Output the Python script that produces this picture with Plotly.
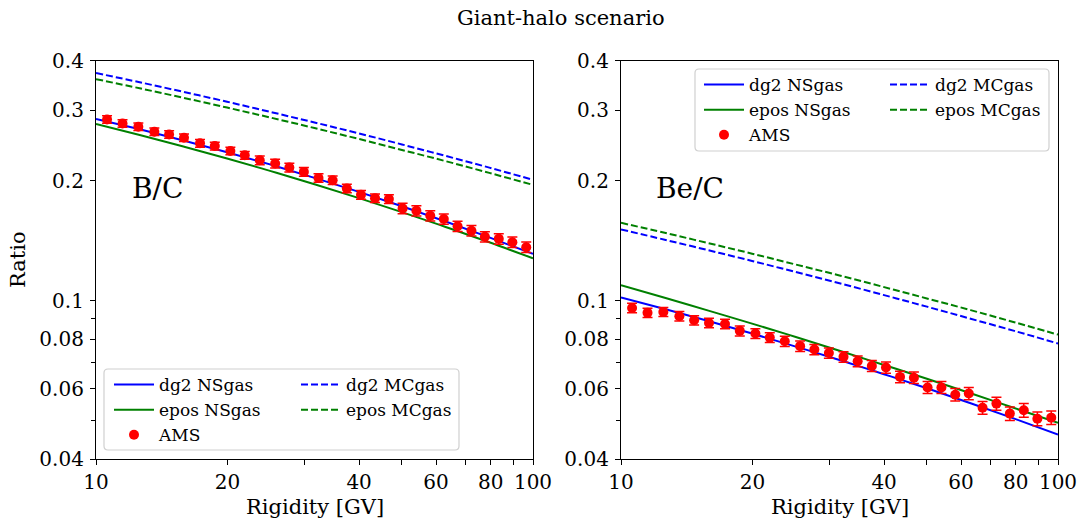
import plotly.graph_objects as go

# ---------------- data ----------------
# AMS rigidity bin centres [GV]
rigidity_ams = [10.6, 11.5, 12.5, 13.6, 14.7, 15.9, 17.3, 18.7, 20.3, 21.9,
                23.7, 25.7, 27.7, 29.9, 32.3, 34.8, 37.5, 40.4, 43.5, 46.8,
                50.3, 54.1, 58.2, 62.5, 67.2, 72.3, 77.6, 83.5, 89.7, 96.5]

bc_ams = [0.2848, 0.2783, 0.2730, 0.2653, 0.2612, 0.2563, 0.2481, 0.2442, 0.2373, 0.2315,
          0.2249, 0.2207, 0.2157, 0.2103, 0.2031, 0.2005, 0.1911, 0.1842, 0.1807, 0.1797,
          0.1703, 0.1680, 0.1632, 0.1602, 0.1536, 0.1497, 0.1446, 0.1428, 0.1401, 0.1361]
bc_ams_err = [0.0063, 0.0061, 0.0060, 0.0058, 0.0057, 0.0056, 0.0055, 0.0054, 0.0052, 0.0051,
              0.0056, 0.0055, 0.0054, 0.0053, 0.0051, 0.0050, 0.0048, 0.0046, 0.0045, 0.0045,
              0.0051, 0.0050, 0.0049, 0.0048, 0.0046, 0.0045, 0.0043, 0.0043, 0.0042, 0.0041]

bec_ams = [0.0958, 0.0931, 0.0936, 0.0913, 0.0892, 0.0878, 0.0873, 0.0839, 0.0826, 0.0807,
           0.0790, 0.0768, 0.0753, 0.0738, 0.0722, 0.0704, 0.0685, 0.0679, 0.0643, 0.0640,
           0.0605, 0.0605, 0.0580, 0.0584, 0.0538, 0.0551, 0.0520, 0.0530, 0.0505, 0.0508]
bec_ams_err = [0.0026, 0.0025, 0.0025, 0.0025, 0.0024, 0.0024, 0.0024, 0.0024, 0.0023, 0.0023,
               0.0023, 0.0023, 0.0022, 0.0022, 0.0022, 0.0022, 0.0022, 0.0022, 0.0021, 0.0021,
               0.0021, 0.0021, 0.0021, 0.0021, 0.0020, 0.0021, 0.0020, 0.0021, 0.0020, 0.0020]

# model grid [GV]
rigidity_model = [10.0, 12.59, 15.85, 19.95, 25.12, 31.62, 39.81, 50.12, 63.10, 79.43, 100.0]

bc_dg2_ns = [0.2858, 0.2690, 0.2523, 0.2357, 0.2193, 0.2032, 0.1876, 0.1725, 0.1579, 0.1440, 0.1309]
bc_epos_ns = [0.2773, 0.2603, 0.2436, 0.2273, 0.2113, 0.1959, 0.1810, 0.1667, 0.1530, 0.1400, 0.1276]
bc_dg2_mc = [0.3725, 0.3531, 0.3341, 0.3155, 0.2973, 0.2799, 0.2630, 0.2465, 0.2307, 0.2156, 0.2009]
bc_epos_mc = [0.3596, 0.3410, 0.3228, 0.3050, 0.2878, 0.2710, 0.2547, 0.2388, 0.2238, 0.2091, 0.1951]

bec_dg2_ns = [0.1018, 0.0952, 0.0888, 0.0826, 0.0766, 0.0709, 0.0654, 0.0602, 0.0552, 0.0505, 0.0461]
bec_epos_ns = [0.1093, 0.1016, 0.0943, 0.0875, 0.0810, 0.0748, 0.0690, 0.0636, 0.0585, 0.0537, 0.0493]
bec_dg2_mc = [0.1508, 0.1421, 0.1337, 0.1257, 0.1179, 0.1105, 0.1033, 0.0965, 0.0900, 0.0839, 0.0780]
bec_epos_mc = [0.1567, 0.1479, 0.1393, 0.1311, 0.1231, 0.1156, 0.1082, 0.1012, 0.0946, 0.0882, 0.0821]

x_ticks = [10, 20, 40, 60, 80, 100]
x_tick_labels = ["10", "20", "40", "60", "80", "100"]
x_minor = [30, 50, 70, 90]
y_ticks = [0.04, 0.06, 0.08, 0.1, 0.2, 0.3, 0.4]
y_tick_labels = ["0.04", "0.06", "0.08", "0.1", "0.2", "0.3", "0.4"]
y_minor = [0.05, 0.07, 0.09]

# ---------------- style ----------------
W, H = 1085, 521
FONT = "DejaVu Serif"
BLUE, GREEN, RED = "#0000ff", "#008000", "#ff0000"
DASH = "7px,3px"


def px(x):
    return x / W


def py(y):
    return 1 - y / H


panels = [
    dict(name="B/C", xa="x", ya="y", ams=bc_ams, err=bc_ams_err,
         models=[bc_dg2_ns, bc_dg2_mc, bc_epos_ns, bc_epos_mc],
         legends=("legend", "legend2")),
    dict(name="Be/C", xa="x2", ya="y2", ams=bec_ams, err=bec_ams_err,
         models=[bec_dg2_ns, bec_dg2_mc, bec_epos_ns, bec_epos_mc],
         legends=("legend3", "legend4")),
]

model_styles = [
    ("dg2 NSgas", BLUE, "solid", 0),
    ("dg2 MCgas", BLUE, DASH, 1),
    ("epos NSgas", GREEN, "solid", 0),
    ("epos MCgas", GREEN, DASH, 1),
]

fig = go.Figure()
for p in panels:
    for vals, (label, color, dash, col) in zip(p["models"], model_styles):
        fig.add_trace(go.Scatter(
            x=rigidity_model, y=vals, mode="lines", name=label,
            line=dict(color=color, width=2, dash=dash, shape="spline"),
            xaxis=p["xa"], yaxis=p["ya"], legend=p["legends"][col],
        ))
    fig.add_trace(go.Scatter(
        x=rigidity_ams, y=p["ams"], mode="markers", name="AMS",
        marker=dict(color=RED, size=10),
        error_y=dict(type="data", array=p["err"], color=RED, thickness=1.5, width=5),
        xaxis=p["xa"], yaxis=p["ya"], legend=p["legends"][0],
    ))

axis_common = dict(
    type="log", showline=True, linecolor="black", linewidth=1.2, mirror=True,
    ticks="outside", ticklen=5, tickwidth=1.2, tickcolor="black",
    showgrid=False, zeroline=False, automargin=False,
    tickfont=dict(family=FONT, size=20, color="black"),
)

xdom = [[px(96), px(533)], [px(621), px(1058)]]
ydom = [py(459), py(60.7)]

for i, key in enumerate(["xaxis", "xaxis2"]):
    fig.layout[key] = dict(
        axis_common, domain=xdom[i], range=[1, 2], anchor="y" if i == 0 else "y2",
        tickmode="array", tickvals=x_ticks, ticktext=x_tick_labels,
        minor=dict(tickmode="array", tickvals=x_minor, ticks="outside", ticklen=5,
                   tickcolor="black", tickwidth=1.2),
    )
for i, key in enumerate(["yaxis", "yaxis2"]):
    fig.layout[key] = dict(
        axis_common, domain=ydom, range=[-1.39794, -0.39794], anchor="x" if i == 0 else "x2",
        tickmode="array", tickvals=y_ticks, ticktext=y_tick_labels, ticklabelstandoff=2,
        minor=dict(tickmode="array", tickvals=y_minor, ticks="outside", ticklen=4,
                   tickcolor="black", tickwidth=1.2),
    )

# legend blocks: two columns per panel inside a shared frame
leg_font = dict(family=FONT, size=17, color="black")


def leg(x, y):
    return dict(x=px(x), y=py(y), xanchor="left", yanchor="top", xref="paper", yref="paper",
                bgcolor="rgba(0,0,0,0)", borderwidth=0, font=leg_font,
                tracegroupgap=0, itemwidth=40)


fig.update_layout(
    legend=leg(109, 367), legend2=leg(296, 367),
    legend3=leg(699, 67), legend4=leg(885, 67),
)


def frame(x0, y0, x1, y1, r=4):
    X0, X1 = px(x0), px(x1)
    Y0, Y1 = py(y0), py(y1)
    rx, ry = r / W, r / H
    path = (f"M{X0+rx},{Y0} L{X1-rx},{Y0} Q{X1},{Y0} {X1},{Y0-ry} "
            f"L{X1},{Y1+ry} Q{X1},{Y1} {X1-rx},{Y1} L{X0+rx},{Y1} "
            f"Q{X0},{Y1} {X0},{Y1+ry} L{X0},{Y0-ry} Q{X0},{Y0} {X0+rx},{Y0} Z")
    return dict(type="path", path=path, xref="paper", yref="paper",
                line=dict(color="#d0d0d0", width=1.2), fillcolor="rgba(255,255,255,0.8)",
                layer="above")


fig.update_layout(shapes=[frame(104, 369, 459, 450), frame(695, 69, 1049, 151)])

ann = []
ann.append(dict(text="Giant-halo scenario", x=px(561), y=py(18), xref="paper", yref="paper",
                showarrow=False, font=dict(family=FONT, size=21, color="black"),
                xanchor="center", yanchor="middle"))
for cx in (314.5, 839.5):
    ann.append(dict(text="Rigidity [GV]", x=px(cx), y=py(507), xref="paper", yref="paper",
                    showarrow=False, font=dict(family=FONT, size=21, color="black"),
                    xanchor="center", yanchor="middle"))
ann.append(dict(text="Ratio", x=px(18), y=py(260), xref="paper", yref="paper", textangle=-90,
                showarrow=False, font=dict(family=FONT, size=21, color="black"),
                xanchor="center", yanchor="middle"))
for p, cx in zip(panels, (157, 690)):
    ann.append(dict(text=p["name"], x=px(cx), y=py(188), xref="paper", yref="paper",
                    showarrow=False, font=dict(family=FONT, size=28, color="black"),
                    xanchor="center", yanchor="middle"))

fig.update_layout(
    annotations=ann, width=W, height=H,
    margin=dict(l=0, r=0, t=0, b=0),
    paper_bgcolor="white", plot_bgcolor="white",
    font=dict(family=FONT, color="black"),
)

fig.write_html("out.html")
